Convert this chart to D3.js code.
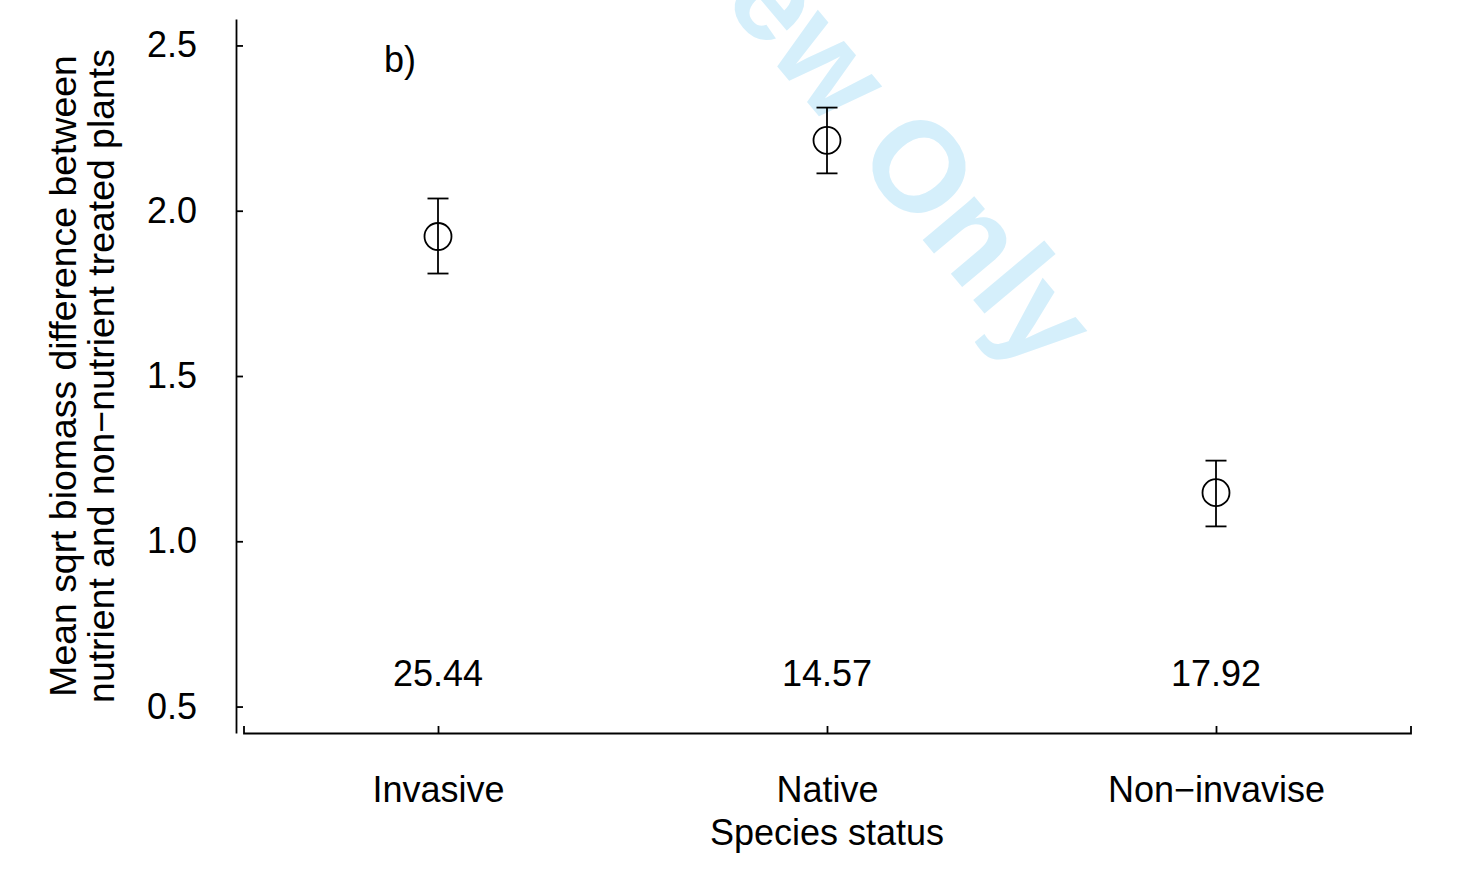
<!DOCTYPE html>
<html>
<head>
<meta charset="utf-8">
<script src="https://cdn.jsdelivr.net/npm/d3@7"></script>
<style>
  html, body { margin: 0; padding: 0; background: #fff; }
  svg { display: block; }
  text { font-family: "Liberation Sans", Arial, Helvetica, sans-serif; }
</style>
</head>
<body>
<script>
// ---- data ----
const categories = ["Invasive", "Native", "Non\u2212invavise"];
const means = [1.922, 2.213, 1.147];
const upper = [2.037, 2.312, 1.244];
const lower = [1.810, 2.113, 1.045];
const counts = ["25.44", "14.57", "17.92"];
const yTicks = [0.5, 1.0, 1.5, 2.0, 2.5];
const yTitle = ["Mean sqrt biomass difference between", "nutrient and non\u2212nutrient treated plants"];
const xTitle = "Species status";
const panelLabel = "b)";
const watermark = "For Peer Review Only";

const W = 1466, H = 869;
const FS = 36;

const svg = d3.select("body").append("svg")
  .attr("width", W).attr("height", H);

// scales
const x = d3.scaleLinear().domain([0.5, 3.5]).range([243.5, 1410.5]);
const y = d3.scaleLinear().domain([0.42, 2.58]).range([733, 19]);
const axisX0 = 236;   // y-axis position
const axisY0 = 733;   // x-axis position

// watermark (drawn first, beneath marks)
svg.append("text")
  .attr("transform", "translate(1036,375) rotate(50)")
  .attr("text-anchor", "end")
  .attr("font-size", 128)
  .attr("font-weight", "bold")
  .attr("fill", "#d5effb")
  .text(watermark);

// y axis
const yAxis = d3.axisLeft(y)
  .tickValues(yTicks)
  .tickFormat(d3.format(".1f"))
  .tickSizeInner(-7)
  .tickSizeOuter(0)
  .tickPadding(39);
const gy = svg.append("g")
  .attr("transform", `translate(${axisX0},0)`)
  .call(yAxis);
gy.selectAll("text").attr("font-size", FS).attr("fill", "#000")
  .attr("font-family", '"Liberation Sans", Arial, sans-serif');

// x axis
const xAxis = d3.axisBottom(x)
  .tickValues([1, 2, 3])
  .tickFormat(d => categories[d - 1])
  .tickSizeInner(-7)
  .tickSizeOuter(-7)
  .tickPadding(0);
const gx = svg.append("g")
  .attr("transform", `translate(0,${axisY0})`)
  .call(xAxis);
gx.selectAll("text").attr("font-size", FS).attr("fill", "#000")
  .attr("dy", null).attr("y", 69)
  .attr("font-family", '"Liberation Sans", Arial, sans-serif');

[gx, gy].forEach(g => {
  g.selectAll("path.domain").attr("stroke", "#000").attr("stroke-width", 1.8);
  g.selectAll(".tick line").attr("stroke", "#000").attr("stroke-width", 1.8);
});

// titles
svg.append("text")
  .attr("x", x(2)).attr("y", 845)
  .attr("text-anchor", "middle")
  .attr("font-size", FS)
  .text(xTitle);

const yMid = (y.range()[0] + y.range()[1]) / 2;
const titleBaselines = [76, 114];
yTitle.forEach((t, i) => {
  svg.append("text")
    .attr("transform", `translate(${titleBaselines[i]},${yMid}) rotate(-90)`)
    .attr("text-anchor", "middle")
    .attr("font-size", 37.4)
    .text(t);
});

svg.append("text")
  .attr("x", 384).attr("y", 72)
  .attr("font-size", FS)
  .text(panelLabel);

// counts
svg.append("g").selectAll("text")
  .data(counts)
  .join("text")
  .attr("x", (d, i) => x(i + 1))
  .attr("y", 686)
  .attr("text-anchor", "middle")
  .attr("font-size", FS)
  .text(d => d);

// error bars
const capHalf = 10.5;
const eb = svg.append("g").attr("stroke", "#000").attr("stroke-width", 1.8).attr("fill", "none");
categories.forEach((c, i) => {
  const cx = x(i + 1);
  eb.append("line").attr("x1", cx).attr("x2", cx).attr("y1", y(lower[i])).attr("y2", y(upper[i]));
  eb.append("line").attr("x1", cx - capHalf).attr("x2", cx + capHalf).attr("y1", y(upper[i])).attr("y2", y(upper[i]));
  eb.append("line").attr("x1", cx - capHalf).attr("x2", cx + capHalf).attr("y1", y(lower[i])).attr("y2", y(lower[i]));
});

// points
svg.append("g").selectAll("circle")
  .data(means)
  .join("circle")
  .attr("cx", (d, i) => x(i + 1))
  .attr("cy", d => y(d))
  .attr("r", 13.5)
  .attr("fill", "none")
  .attr("stroke", "#000")
  .attr("stroke-width", 1.8);
</script>
</body>
</html>
